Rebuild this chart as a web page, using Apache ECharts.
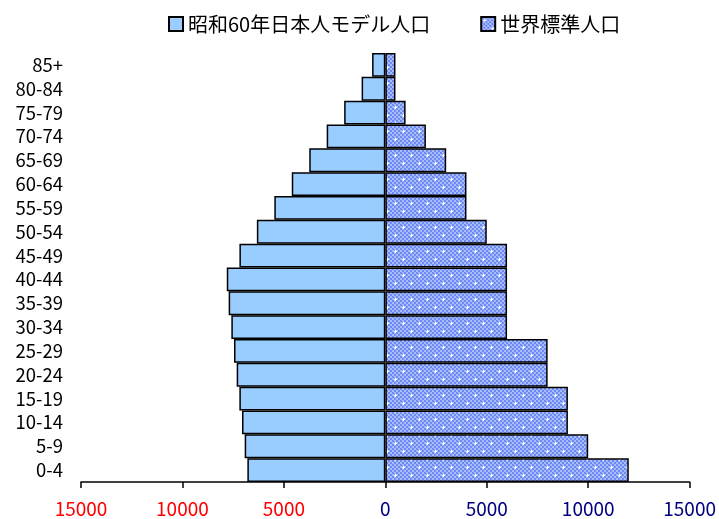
<!DOCTYPE html>
<html>
<head>
<meta charset="utf-8">
<script src="https://cdn.jsdelivr.net/npm/echarts@6/dist/echarts.min.js"></script>
<style>
html,body{margin:0;padding:0;background:#fff;}
#main{width:719px;height:519px;}
</style>
</head>
<body>
<div id="main"></div>
<script>
var categories = ['0-4','5-9','10-14','15-19','20-24','25-29','30-34','35-39','40-44','45-49','50-54','55-59','60-64','65-69','70-74','75-79','80-84','85+'];
var japanModel = [6800, 6932, 7064, 7195, 7327, 7459, 7590, 7722, 7815, 7192, 6332, 5471, 4611, 3750, 2890, 2029, 1169, 652];
var worldStandard = [12000, 10000, 9000, 9000, 8000, 8000, 6000, 6000, 6000, 6000, 5000, 4000, 4000, 3000, 2000, 1000, 500, 500];
var seriesNames = ['昭和60年日本人モデル人口', '世界標準人口'];
var xTicks = [-15000, -10000, -5000, 0, 5000, 10000, 15000];

function makePattern() {
  var c = document.createElement('canvas');
  c.width = 16; c.height = 16;
  var ctx = c.getContext('2d');
  for (var y = 0; y < 16; y += 2) {
    for (var x = 0; x < 16; x += 2) {
      ctx.fillStyle = ((x + y) / 2) % 2 === 0 ? '#6b8af4' : '#a9bcf9';
      ctx.fillRect(x, y, 2, 2);
    }
  }
  ctx.fillStyle = '#ffffff';
  [[3, 3], [11, 11]].forEach(function (p) {
    ctx.fillRect(p[0], p[1] - 1, 1, 3);
    ctx.fillRect(p[0] - 1, p[1], 3, 1);
  });
  return c;
}

var chart = echarts.init(document.getElementById('main'), null, {renderer: 'canvas'});
var font = '"Noto Sans CJK JP", "Noto Sans", sans-serif';
chart.setOption({
  animation: false,
  backgroundColor: '#ffffff',
  textStyle: {fontFamily: font},
  legend: {
    top: 9,
    left: 163,
    itemWidth: 14,
    itemHeight: 14,
    itemGap: 50,
    icon: 'rect',
    textStyle: {fontSize: 20, color: '#000', fontFamily: font},
    data: seriesNames
  },
  grid: {left: 81, right: 29, top: 53, bottom: 37},
  xAxis: {
    type: 'value',
    min: xTicks[0],
    max: xTicks[xTicks.length - 1],
    interval: 5000,
    splitLine: {show: false},
    axisLine: {show: true, lineStyle: {color: '#000', width: 1.5}},
    axisTick: {show: true, length: 6, lineStyle: {color: '#000', width: 1.5}},
    axisLabel: {
      margin: 17,
      fontSize: 19,
      fontFamily: font,
      formatter: function (v) { return String(Math.abs(v)); },
      color: function (v) { return Number(v) < 0 ? '#ff0000' : '#000080'; }
    }
  },
  yAxis: {
    type: 'category',
    data: categories,
    axisLine: {show: false},
    axisTick: {show: false},
    axisLabel: {interval: 0, margin: 18, fontSize: 18.5, lineHeight: 20, color: '#000', fontFamily: font}
  },
  series: [
    {
      name: seriesNames[0],
      type: 'bar',
      stack: 'pop',
      barCategoryGap: '0%',
      itemStyle: {color: '#99ccff', borderColor: '#000', borderWidth: 1.5},
      data: japanModel.map(function (v) { return -v; })
    },
    {
      name: seriesNames[1],
      type: 'bar',
      stack: 'pop',
      barCategoryGap: '0%',
      itemStyle: {color: {image: makePattern(), repeat: 'repeat'}, borderColor: '#000', borderWidth: 1.5},
      data: worldStandard
    }
  ]
});
</script>
</body>
</html>
